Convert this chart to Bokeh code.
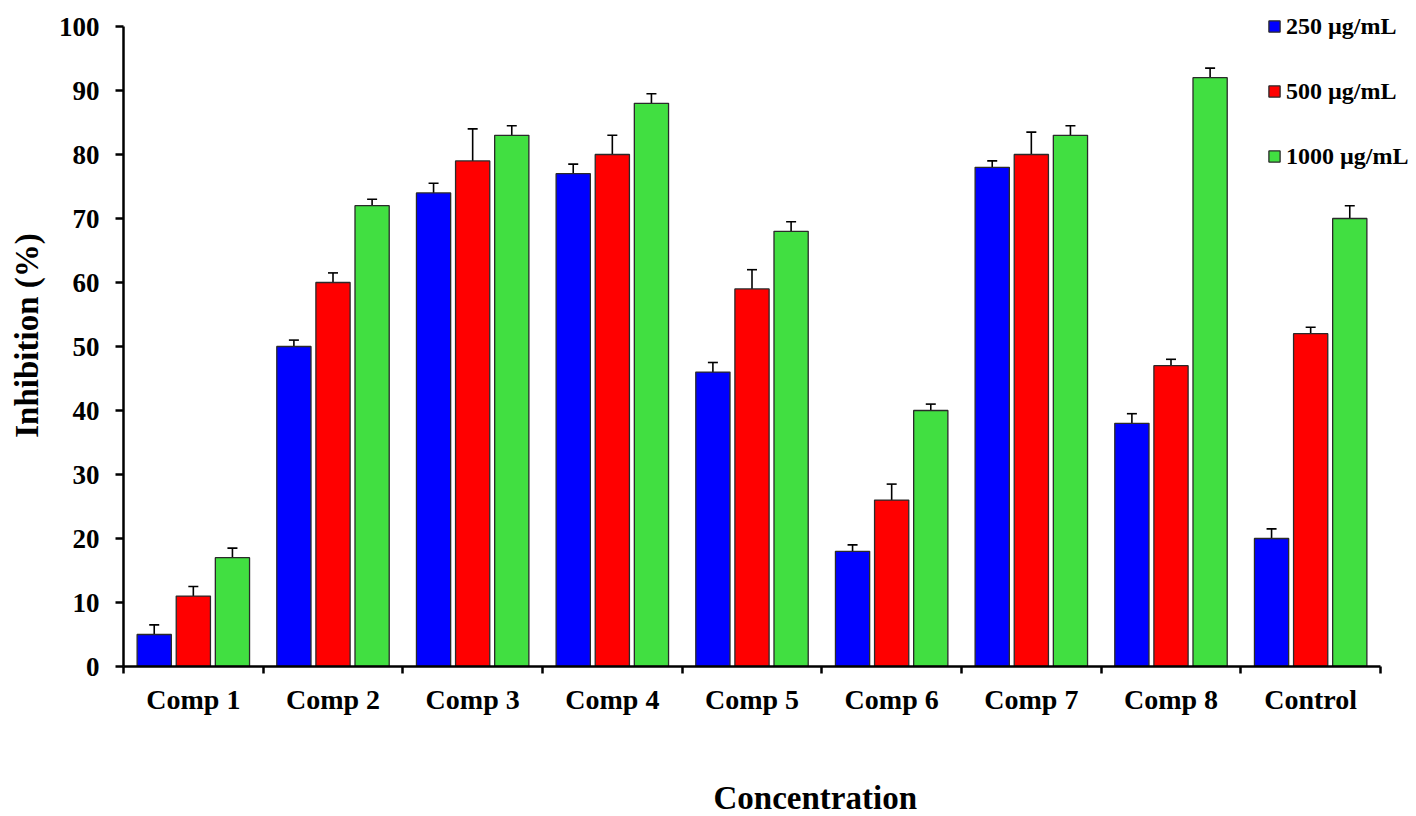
import numpy as np
from bokeh.plotting import figure
from bokeh.models import (Range1d, FixedTicker, Whisker, TeeHead, ColumnDataSource,
                          Legend, LegendItem, LinearAxis, Title)
from bokeh.embed import file_html
from bokeh.resources import INLINE

categories = ["Comp 1", "Comp 2", "Comp 3", "Comp 4", "Comp 5",
              "Comp 6", "Comp 7", "Comp 8", "Control"]
series = ["250 \u00b5g/mL", "500 \u00b5g/mL", "1000 \u00b5g/mL"]
v250 = [5, 50, 74, 77, 46, 18, 78, 38, 20]
v500 = [11, 60, 79, 80, 59, 26, 80, 47, 52]
v1000 = [17, 72, 83, 88, 68, 40, 83, 92, 70]
e250 = [1.5, 1, 1.5, 1.5, 1.5, 1, 1, 1.5, 1.5]
e500 = [1.5, 1.5, 5, 3, 3, 2.5, 3.5, 1, 1]
e1000 = [1.5, 1, 1.5, 1.5, 1.5, 1, 1.5, 1.5, 2]
y_ticks = [0, 10, 20, 30, 40, 50, 60, 70, 80, 90, 100]
x_title = "Concentration"
y_title = "Inhibition (%)"

colors = ["#0000FF", "#FF0000", "#41DF41"]
offsets = [-0.28, 0.0, 0.28]
bar_w = 0.245
FONT = "Liberation Serif"

n = len(categories)
W, H = 1416, 816
left, right, top, bottom = 123, 2, 4, 150
frame_w = W - left - right
frame_h = H - top - bottom
axis_px = 1257   # pixel length of the category axis
yaxis_px = 640   # pixel length of the 0-100 value axis
x_end = n * frame_w / axis_px
y_end = 100 * frame_h / yaxis_px

p = figure(width=W, height=H, output_backend="svg", toolbar_location=None,
           x_range=Range1d(0, x_end), y_range=Range1d(0, y_end),
           min_border_left=left, min_border_right=right, min_border_top=top,
           min_border_bottom=bottom)
p.outline_line_color = None
p.xgrid.visible = False
p.ygrid.visible = False

centers = np.arange(n) + 0.5
renderers = []
for vals, errs, col, off in zip([v250, v500, v1000], [e250, e500, e1000], colors, offsets):
    vals = np.array(vals, dtype=float)
    errs = np.array(errs, dtype=float)
    src = ColumnDataSource(dict(x=centers + off, top=vals,
                                upper=vals + errs, lower=vals - errs))
    r = p.vbar(x="x", top="top", bottom=0, width=bar_w, source=src,
               fill_color=col, line_color="#2a2a2a", line_width=1.3)
    renderers.append(r)
    w = Whisker(base="x", upper="upper", lower="lower", source=src,
                line_color="black", line_width=1.6,
                upper_head=TeeHead(size=10, line_width=1.6, line_color="black"),
                lower_head=TeeHead(size=10, line_width=1.6, line_color="black"))
    p.add_layout(w)

# x axis
xax = p.xaxis[0]
xax.bounds = (0, n)
xax.ticker = FixedTicker(ticks=list(centers), minor_ticks=list(range(n + 1)))
xax.major_label_overrides = {float(c): lab for c, lab in zip(centers, categories)}
xax.major_tick_line_color = None
xax.major_tick_out = 7
xax.major_tick_in = 0
xax.minor_tick_out = 7
xax.minor_tick_in = 0
xax.minor_tick_line_color = "black"
xax.minor_tick_line_width = 2.5
xax.axis_line_width = 2.5
xax.axis_line_color = "black"
xax.major_label_text_font = FONT
xax.major_label_text_font_style = "bold"
xax.major_label_text_font_size = "28px"
xax.major_label_text_color = "black"
xax.major_label_standoff = 10

# invisible spacer axis, then the x title placed where the reference has it
spacer = LinearAxis(ticker=FixedTicker(ticks=[]), axis_line_color=None,
                    major_tick_line_color=None, minor_tick_line_color=None,
                    major_label_text_font_size="0px",
                    axis_label=" ", axis_label_text_font_size="2px",
                    axis_label_standoff=55)
p.add_layout(spacer, "below")
p.add_layout(Title(text=x_title, align="left", offset=590, standoff=0,
                   text_font=FONT, text_font_style="bold", text_font_size="33px",
                   text_color="black"), "below")

# y axis
yax = p.yaxis[0]
yax.bounds = (0, 100)
yax.ticker = FixedTicker(ticks=y_ticks)
yax.minor_tick_line_color = None
yax.major_tick_out = 8
yax.major_tick_in = 0
yax.major_tick_line_width = 2.5
yax.axis_line_width = 2.5
yax.axis_line_color = "black"
yax.major_tick_line_color = "black"
yax.major_label_text_font = FONT
yax.major_label_text_font_style = "bold"
yax.major_label_text_font_size = "27px"
yax.major_label_text_color = "black"
yax.major_label_standoff = 16
yax.axis_label = y_title
yax.axis_label_text_font = FONT
yax.axis_label_text_font_style = "bold"
yax.axis_label_text_font_size = "33px"
yax.axis_label_text_color = "black"
yax.axis_label_standoff = 11

legend = Legend(items=[LegendItem(label=s, renderers=[r]) for s, r in zip(series, renderers)],
                location=(1144, 496), orientation="vertical",
                label_text_font=FONT, label_text_font_style="bold",
                label_text_font_size="24px", label_text_color="black",
                background_fill_alpha=0, border_line_alpha=0,
                padding=0, margin=0, spacing=37, glyph_width=14, glyph_height=14,
                label_standoff=5, label_height=28)
p.add_layout(legend)

open("out.html", "w").write(file_html(p, INLINE))
